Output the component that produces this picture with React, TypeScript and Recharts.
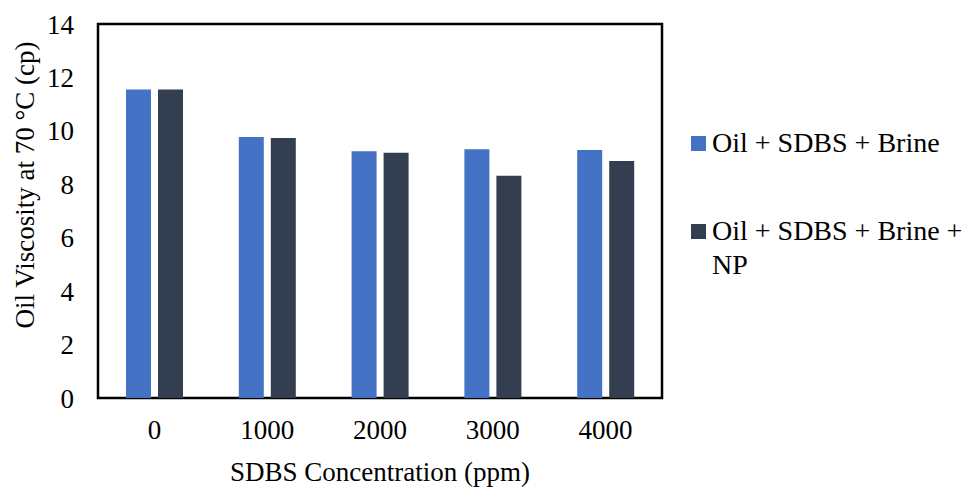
import React from 'react';
import { BarChart, Bar, XAxis, YAxis, Legend, ReferenceArea, Label } from 'recharts';

const categories = ['0', '1000', '2000', '3000', '4000'];
const brineValues = [11.55, 9.77, 9.24, 9.31, 9.28];
const brineNpValues = [11.55, 9.73, 9.18, 8.32, 8.87];
const yTicks = [0, 2, 4, 6, 8, 10, 12, 14];

const seriesNames = ['Oil + SDBS + Brine', 'Oil + SDBS + Brine + NP'];
const seriesColors = ['#4472C4', '#333F50'];

const data = categories.map((c, i) => ({
  conc: c,
  brine: brineValues[i],
  brineNp: brineNpValues[i],
}));

const FONT = '"Liberation Serif", "Times New Roman", serif';

const LegendContent = (props: any) => {
  const payload = props.payload || [];
  return (
    <div style={{ fontFamily: FONT, fontSize: 28, lineHeight: '34px', color: '#000' }}>
      {payload.map((p: any, i: number) => (
        <div
          key={i}
          style={{ display: 'flex', alignItems: 'flex-start', marginBottom: i === 0 ? 54 : 0 }}
        >
          <div style={{ width: 15, height: 15, background: p.color, marginTop: 10, marginRight: 6, flexShrink: 0 }} />
          <div style={{ flex: 1 }}>{p.value}</div>
        </div>
      ))}
    </div>
  );
};

const YTitle = (props: any) => {
  const vb = props.viewBox || { x: 0, y: 0, width: 0, height: 0 };
  const cx = vb.x + 15;
  const cy = vb.y + vb.height / 2 - 26;
  return (
    <text
      x={cx}
      y={cy}
      transform={`rotate(-90, ${cx}, ${cy})`}
      textAnchor="middle"
      dominantBaseline="central"
      fontFamily={FONT}
      fontSize={27}
      fill="#000"
    >
      Oil Viscosity at 70 °C (cp)
    </text>
  );
};

export default function App() {
  return (
    <div style={{ position: 'absolute', left: 0, top: 0, width: 977, height: 491, background: '#fff' }}>
      <BarChart
        width={977}
        height={491}
        data={data}
        margin={{ top: 24, right: 315, bottom: 8, left: 10 }}
        barSize={25}
        barGap={7}
      >
        <XAxis
          dataKey="conc"
          height={85}
          axisLine={false}
          tickLine={false}
          tickSize={0}
          tickMargin={22}
          tick={{ fontFamily: FONT, fontSize: 27, fill: '#000' }}
        >
          <Label
            value="SDBS Concentration (ppm)"
            position="insideBottom"
            offset={2}
            style={{ fontFamily: FONT, fontSize: 27, fill: '#000' }}
          />
        </XAxis>
        <YAxis
          width={88}
          domain={[0, 14]}
          ticks={yTicks}
          interval={0}
          axisLine={false}
          tickLine={false}
          tickSize={0}
          tickMargin={24}
          tick={{ fontFamily: FONT, fontSize: 27, fill: '#000' }}
        >
          <Label content={<YTitle />} />
        </YAxis>
        <Bar dataKey="brine" name={seriesNames[0]} fill={seriesColors[0]} isAnimationActive={false} />
        <Bar dataKey="brineNp" name={seriesNames[1]} fill={seriesColors[1]} isAnimationActive={false} />
        <ReferenceArea y1={0} y2={14} fill="none" stroke="#000" strokeWidth={2.5} ifOverflow="visible" />
        <Legend
          layout="horizontal"
          align="center"
          verticalAlign="middle"
          content={<LegendContent />}
          wrapperStyle={{ left: 691, top: 126, width: 286 }}
        />
      </BarChart>
    </div>
  );
}
